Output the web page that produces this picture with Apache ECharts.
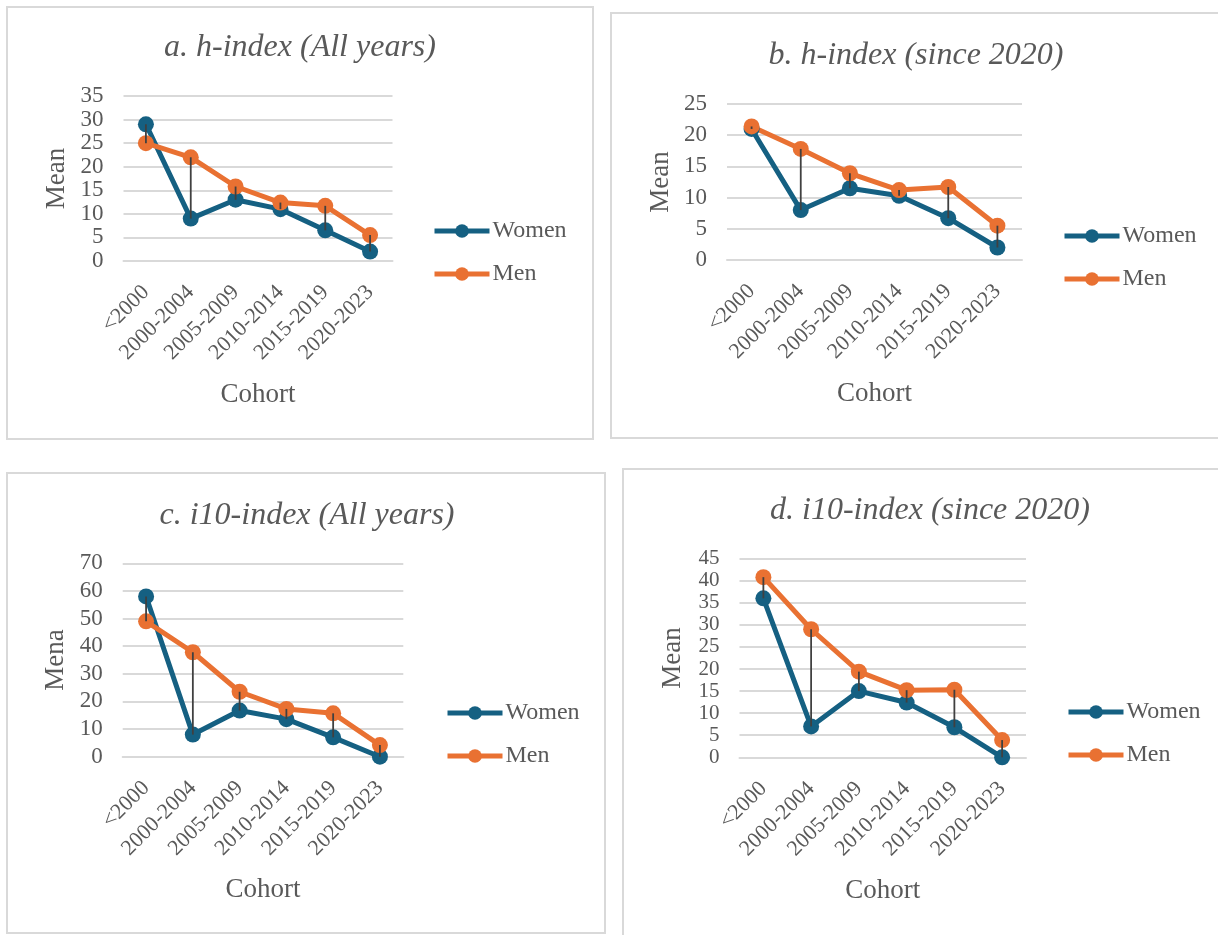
<!DOCTYPE html>
<html>
<head>
<meta charset="utf-8">
<script src="https://cdn.jsdelivr.net/npm/echarts@6/dist/echarts.min.js"></script>
<style>
html,body{margin:0;padding:0;background:#fff;}
#chart{width:1218px;height:935px;}
</style>
</head>
<body>
<div id="chart"></div>
<script>
// ---- data ----
const cohorts = ['<2000', '2000-2004', '2005-2009', '2010-2014', '2015-2019', '2020-2023'];
const seriesNames = ['Women', 'Men'];
const panelTitles = ['a. h-index (All years)', 'b. h-index (since 2020)', 'c. i10-index (All years)', 'd. i10-index (since 2020)'];
const yNames = ['Mean', 'Mean', 'Mena', 'Mean'];
const xName = 'Cohort';
const yMax = [35, 25, 70, 45];
const yStep = [5, 5, 10, 5];

const hAllWomen = [29, 9, 13, 11, 6.5, 2];
const hAllMen = [25, 22, 15.8, 12.4, 11.7, 5.5];
const h2020Women = [21, 8, 11.5, 10.3, 6.7, 2];
const h2020Men = [21.4, 17.8, 13.9, 11.2, 11.7, 5.5];
const i10AllWomen = [58, 8, 16.7, 13.6, 7, 0];
const i10AllMen = [49, 37.8, 23.5, 17.3, 15.7, 4.2];
const i10SinceWomen = [36, 7, 15, 12.4, 6.8, 0];
const i10SinceMen = [40.8, 29, 19.4, 15.2, 15.3, 3.9];

const womenData = [hAllWomen, h2020Women, i10AllWomen, i10SinceWomen];
const menData = [hAllMen, h2020Men, i10AllMen, i10SinceMen];

// ---- layout ----
const TEXT = '#595959';
const GRIDC = '#D9D9D9';
const WOMEN_C = '#156082';
const MEN_C = '#E97132';
const FONT = '"Liberation Serif", "Times New Roman", serif';

const layouts = [
  {gl: 123.5, gr: 392.5, gt: 96, gb: 261, tx: 300, ty: 47, lx: 432, ly: 231, yf: 23},
  {gl: 727, gr: 1022, gt: 104, gb: 260, tx: 916, ty: 55, lx: 1062, ly: 236, yf: 23},
  {gl: 122.7, gr: 403.3, gt: 563.3, gb: 756.7, tx: 307, ty: 515, lx: 445, ly: 713, yf: 23},
  {gl: 739.5, gr: 1026, gt: 558.6, gb: 757.3, tx: 930, ty: 510, lx: 1066, ly: 712, yf: 21}
];
const boxes = [
  {x: 7, y: 7, w: 586, h: 432},
  {x: 611, y: 13, w: 640, h: 425},
  {x: 7, y: 473, w: 598, h: 460},
  {x: 623, y: 469, w: 640, h: 500}
];

const chart = echarts.init(document.getElementById('chart'), null, {renderer: 'canvas'});

const grids = [], xAxes = [], yAxes = [], series = [], titles = [], legends = [];
layouts.forEach((L, k) => {
  grids.push({left: L.gl, top: L.gt, width: L.gr - L.gl, height: L.gb - L.gt, containLabel: false});
  titles.push({
    text: panelTitles[k], left: L.tx, top: L.ty - 15, textAlign: 'center', padding: 0,
    textStyle: {fontFamily: FONT, fontStyle: 'italic', fontWeight: 'normal', fontSize: 32, color: TEXT}
  });
  legends.push({
    data: seriesNames, orient: 'vertical', left: L.lx, top: L.ly - 14, padding: 0,
    itemWidth: 55, itemHeight: 17, itemGap: 15, selectedMode: false,
    lineStyle: {width: 5},
    textStyle: {fontFamily: FONT, fontSize: 24, color: TEXT, lineHeight: 28, padding: [0, 0, 0, -2]}
  });
  xAxes.push({
    type: 'category', gridIndex: k, data: cohorts, boundaryGap: true,
    name: xName, nameLocation: 'middle', nameGap: 120,
    nameTextStyle: {fontFamily: FONT, fontSize: 27, color: TEXT},
    axisLine: {show: true, lineStyle: {color: GRIDC, width: 2}},
    axisTick: {show: false},
    axisLabel: {rotate: 45, margin: 28, interval: 0, fontFamily: FONT, fontSize: 22, color: TEXT}
  });
  yAxes.push({
    type: 'value', gridIndex: k, min: 0, max: yMax[k], interval: yStep[k],
    name: yNames[k], nameLocation: 'middle', nameGap: 53, nameRotate: 90,
    nameTextStyle: {fontFamily: FONT, fontSize: 27, color: TEXT},
    axisLine: {show: false}, axisTick: {show: false},
    axisLabel: {margin: 20, fontFamily: FONT, fontSize: L.yf, lineHeight: 12, color: TEXT,
                showMinLabel: true, showMaxLabel: true, hideOverlap: false},
    splitLine: {show: true, lineStyle: {color: GRIDC, width: 2}}
  });
  const mk = (name, data, color) => ({
    name, type: 'line', xAxisIndex: k, yAxisIndex: k, data,
    symbol: 'circle', symbolSize: 16, showSymbol: true,
    lineStyle: {color, width: 5}, itemStyle: {color},
    animation: false, z: 3
  });
  series.push(mk('Women', womenData[k], WOMEN_C));
  series.push(mk('Men', menData[k], MEN_C));
  series.push({
    type: 'custom', xAxisIndex: k, yAxisIndex: k, z: 5, animation: false,
    data: cohorts.map((c, i) => [i, womenData[k][i], menData[k][i]]),
    encode: {x: 0, y: [1, 2]},
    renderItem: (params, api) => {
      const p1 = api.coord([api.value(0), api.value(1)]);
      const p2 = api.coord([api.value(0), api.value(2)]);
      return {type: 'line', shape: {x1: p1[0], y1: p1[1], x2: p2[0], y2: p2[1]},
              style: {stroke: '#404040', lineWidth: 1.8}};
    }
  });
});

const graphic = boxes.map(b => ({
  type: 'rect', silent: true, z: -10,
  shape: {x: b.x, y: b.y, width: b.w, height: b.h},
  style: {fill: '#fff', stroke: GRIDC, lineWidth: 2}
}));

chart.setOption({
  animation: false,
  backgroundColor: '#fff',
  title: titles,
  legend: legends,
  grid: grids,
  xAxis: xAxes,
  yAxis: yAxes,
  series,
  graphic
});
</script>
</body>
</html>
